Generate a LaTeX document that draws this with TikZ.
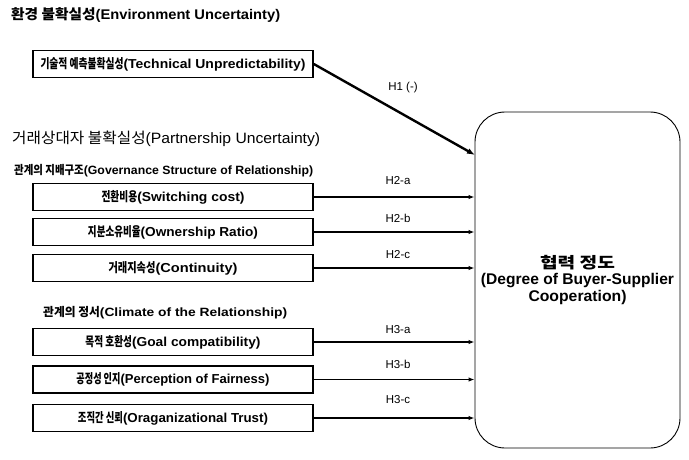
\documentclass[tikz,border=0pt]{standalone}
\usepackage{fontspec}
\usepackage{graphicx}
\setmainfont{Liberation Sans}
\newfontfamily\krfont{Noto Sans CJK KR}
\usetikzlibrary{arrows.meta}
\newcommand\kt[2][1]{\scalebox{#1}[1]{\krfont #2}}
\newcommand\fitw[2]{\resizebox{#1}{\height}{#2}}
\begin{document}
\begin{tikzpicture}[x=1pt,y=-1pt,
  ttl/.style={anchor=west,inner sep=0pt,font=\fontsize{14}{16}\selectfont\bfseries},
  ttlr/.style={anchor=west,inner sep=0pt,font=\fontsize{15}{17}\selectfont},
  sub/.style={anchor=west,inner sep=0pt,font=\fontsize{12}{14}\selectfont\bfseries},
  fbox/.style={draw,line width=1.6pt,minimum width=280pt,minimum height=27pt,inner sep=0pt,
    font=\fontsize{13}{14}\selectfont\bfseries},
  big/.style={draw,line width=0.9pt,rounded corners=30pt,minimum width=205pt,minimum height=336pt,
    align=center,inner sep=0pt,font=\fontsize{15.5}{16.5}\selectfont\bfseries},
  lab/.style={inner sep=0pt,font=\fontsize{11.5}{13}\selectfont},
  conn/.style={line width=1.2pt,-{Latex[length=6pt,width=4.5pt]}},
  conn1/.style={line width=2.4pt,-{Latex[length=8pt,width=6pt]}}
]
\useasboundingbox (0,0) rectangle (689,459);

% titles
\node[ttl] (t1) at (11,15) {\fitw{269pt}{\kt{환경 불확실성}(Environment Uncertainty)}};
\node[ttlr] (t2) at (12,139) {\fitw{308pt}{\kt{거래상대자 불확실성}(Partnership Uncertainty)}};
\node[sub] (s1) at (14,171) {\fitw{299pt}{\kt[0.85]{관계의 지배구조}(Governance Structure of Relationship)}};
\node[sub] (s2) at (43,313) {\fitw{244pt}{\kt[0.85]{관계의 정서}(Climate of the Relationship)}};

% boxes
\node[fbox] (b1) at (173,64) {\fitw{265pt}{\kt[0.7]{기술적 예측불확실성}(Technical Unpredictability)}};
\node[fbox] (sw) at (173,197) {\fitw{143pt}{\kt[0.7]{전환비용}(Switching cost)}};
\node[fbox] (ow) at (173,232) {\fitw{170pt}{\kt[0.7]{지분소유비율}(Ownership Ratio)}};
\node[fbox] (co) at (173,268) {\fitw{129pt}{\kt[0.7]{거래지속성}(Continuity)}};
\node[fbox] (go) at (173,342) {\fitw{175pt}{\kt[0.7]{목적 호환성}(Goal compatibility)}};
\node[fbox] (fa) at (173,379.5) {\fitw{193pt}{\kt[0.7]{공정성 인지}(Perception of Fairness)}};
\node[fbox] (tr) at (173,418) {\fitw{190pt}{\kt[0.7]{조직간 신뢰}(Oraganizational Trust)}};

% big box
\node[big] (bg) at (577.5,280) {\fitw{75pt}{\kt{협력 정도}}\\\fitw{193pt}{(Degree of Buyer-Supplier}\\\fitw{98pt}{Cooperation)}};

% connectors
\coordinate (h1e) at (475,155);
\draw[conn1] (b1.east) -- (h1e);
\draw[conn] (sw.east) -- (sw.east -| bg.west);
\draw[conn] (ow.east) -- (ow.east -| bg.west);
\draw[conn] (co.east) -- (co.east -| bg.west);
\draw[conn] (go.east) -- (go.east -| bg.west);
\draw[conn] (fa.east) -- (fa.east -| bg.west);
\draw[conn] (tr.east) -- (tr.east -| bg.west);

% labels
\node[lab] (l1) at (403,88) {H1 (-)};
\node[lab] (l2a) at (398,181) {H2-a};
\node[lab] (l2b) at (398,218) {H2-b};
\node[lab] (l2c) at (398,255) {H2-c};
\node[lab] (l3a) at (398,330) {H3-a};
\node[lab] (l3b) at (398,364) {H3-b};
\node[lab] (l3c) at (398,400) {H3-c};
\end{tikzpicture}
\end{document}
